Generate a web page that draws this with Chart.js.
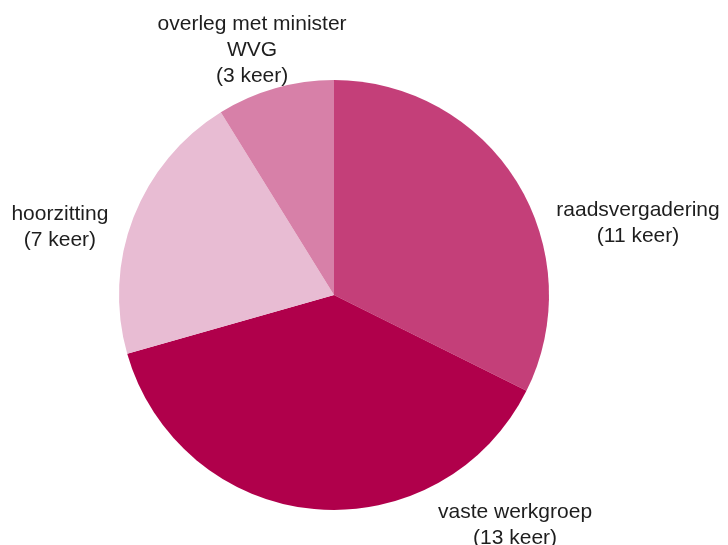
<!DOCTYPE html>
<html>
<head>
<meta charset="utf-8">
<script src="https://cdn.jsdelivr.net/npm/chart.js@4.4.0/dist/chart.umd.min.js"></script>
<style>
  html, body { margin: 0; padding: 0; background: #fff; }
  #wrap { width: 728px; height: 545px; }
</style>
</head>
<body>
<div id="wrap"><canvas id="grafico"></canvas></div>
<script>
// data
const categorieen = ['raadsvergadering', 'vaste werkgroep', 'hoorzitting', 'overleg met minister WVG'];
const aantallen = [11, 13, 7, 3];
const kleuren = ['#c43f79', '#b0004b', '#e8bcd3', '#d780a8'];

// label block centre, in units of the pie radius, relative to the pie centre
const labelPos = [[1.414, -0.335], [0.842, 1.07], [-1.275, -0.316], [-0.381, -1.14]];

function labelRegels(i) {
    const naam = categorieen[i] === 'overleg met minister WVG' ? ['overleg met minister', 'WVG'] : [categorieen[i]];
    return naam.concat('(' + aantallen[i] + ' keer)');
}

const labelPlugin = {
    id: 'pieLabels',
    afterDraw(chart) {
        const ctx = chart.ctx;
        const meta = chart.getDatasetMeta(0);
        ctx.save();
        ctx.font = '21px "Liberation Sans", Arial, sans-serif';
        ctx.fillStyle = '#1e1e1e';
        ctx.textAlign = 'center';
        ctx.textBaseline = 'middle';
        meta.data.forEach((arc, i) => {
            const r = arc.outerRadius;
            const cx = arc.x + labelPos[i][0] * r;
            const cy = arc.y + labelPos[i][1] * r;
            const regels = labelRegels(i);
            const lh = 26;
            const start = cy - (regels.length - 1) * lh / 2;
            regels.forEach((t, j) => ctx.fillText(t, cx, start + j * lh));
        });
        ctx.restore();
    }
};

new Chart(document.getElementById('grafico'), {
    type: 'pie',
    data: {
        labels: categorieen,
        datasets: [{
            data: aantallen,
            backgroundColor: kleuren,
            borderWidth: 0
        }]
    },
    options: {
        responsive: true,
        maintainAspectRatio: false,
        animation: false,
        layout: { padding: { left: 119, right: 179, top: 80, bottom: 35 } },
        plugins: {
            legend: { display: false },
            tooltip: { enabled: false }
        }
    },
    plugins: [labelPlugin]
});
</script>
</body>
</html>
